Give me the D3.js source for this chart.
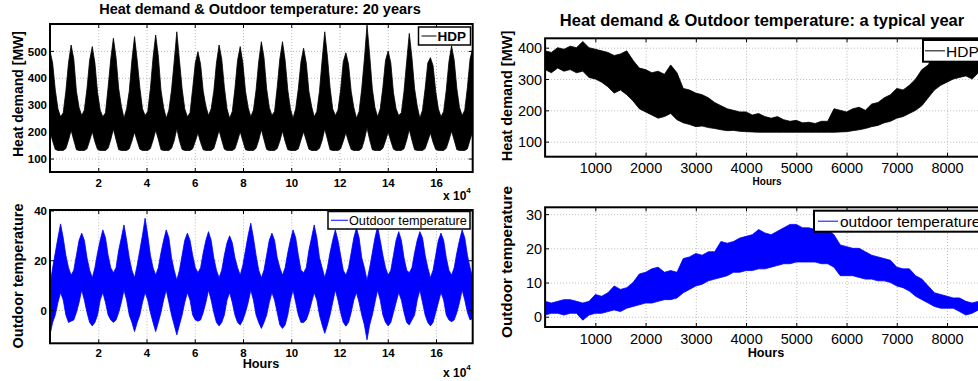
<!DOCTYPE html>
<html>
<head>
<meta charset="utf-8">
<script src="https://cdn.jsdelivr.net/npm/d3@7"></script>
<style>
  body { margin: 0; background: #fff; }
  svg { display: block; font-family: "Liberation Sans", Arial, Helvetica, sans-serif; }
  .grid line { stroke: #a8a8a8; stroke-width: 0.8; stroke-dasharray: 1,2; }
  .grid path { display: none; }
  .ticks path { display: none; }
  .ticks line { stroke: #000; stroke-width: 1; }
</style>
</head>
<body>
<svg id="chart" width="978" height="381"></svg>
<script>
// ---- 20 years: envelope of the hourly series, one sample every 1/8 year (1095 h)
const step20 = 1095;
const hdp20Upper = [
  500, 455, 355, 285, 255, 270, 350, 455,
  522, 470, 350, 290, 260, 280, 360, 465,
  516, 455, 345, 280, 255, 270, 365, 470,
  547, 475, 360, 295, 250, 285, 350, 465,
  553, 465, 365, 285, 260, 275, 360, 475,
  559, 480, 355, 290, 250, 280, 355, 460,
  571, 465, 360, 285, 255, 270, 360, 455,
  497, 450, 350, 295, 260, 285, 350, 455,
  522, 470, 365, 285, 250, 275, 360, 465,
  516, 455, 350, 290, 255, 280, 355, 460,
  534, 475, 360, 290, 260, 275, 365, 470,
  534, 465, 355, 285, 250, 285, 360, 460,
  510, 455, 350, 295, 255, 275, 350, 465,
  571, 480, 365, 285, 260, 280, 355, 460,
  493, 450, 350, 290, 250, 275, 360, 470,
  596, 485, 360, 290, 255, 285, 365, 465,
  500, 455, 345, 285, 260, 270, 350, 460,
  565, 475, 360, 295, 250, 280, 360, 455,
  475, 445, 350, 285, 255, 275, 355, 460,
  519, 465, 360, 290, 260, 280, 365, 470,
  510
];
const hdp20Lower = [
  200, 165, 134, 130, 130, 130, 137, 168,
  205, 168, 133, 130, 130, 130, 136, 166,
  200, 162, 134, 130, 130, 130, 138, 170,
  210, 170, 133, 130, 130, 130, 136, 165,
  198, 165, 135, 130, 130, 130, 137, 168,
  205, 172, 133, 130, 130, 130, 138, 166,
  212, 166, 134, 130, 130, 130, 136, 164,
  195, 160, 133, 130, 130, 130, 137, 170,
  205, 168, 135, 130, 130, 130, 136, 166,
  200, 165, 133, 130, 130, 130, 138, 168,
  208, 170, 134, 130, 130, 130, 137, 165,
  202, 164, 133, 130, 130, 130, 136, 169,
  200, 167, 135, 130, 130, 130, 138, 167,
  210, 172, 133, 130, 130, 130, 136, 164,
  196, 162, 134, 130, 130, 130, 137, 170,
  214, 170, 133, 130, 130, 130, 138, 166,
  198, 165, 135, 130, 130, 130, 136, 168,
  208, 168, 133, 130, 130, 130, 137, 165,
  195, 160, 134, 130, 130, 130, 138, 168,
  202, 168, 133, 130, 130, 130, 136, 170,
  200
];
const temp20Upper = [
  10, 17, 23, 29, 34.6, 29, 22, 17,
  14, 16, 22, 28, 30.9, 28, 21, 16,
  13, 17, 23, 28, 32.2, 29, 22, 17,
  15, 17, 24, 29, 34.2, 28, 21, 16,
  13, 18, 24, 30, 36.9, 30, 22, 17,
  14, 17, 23, 28, 32.2, 29, 21, 16,
  12, 16, 22, 28, 30.9, 28, 22, 17,
  15, 17, 23, 28, 31.5, 28, 21, 16,
  13, 16, 22, 27, 29.8, 27, 21, 17,
  14, 18, 24, 30, 34.9, 29, 22, 16,
  13, 16, 22, 28, 30.9, 28, 21, 17,
  14, 17, 23, 28, 32.2, 29, 22, 16,
  15, 17, 24, 29, 34.2, 29, 21, 17,
  13, 17, 23, 28, 32.2, 28, 22, 16,
  14, 17, 23, 29, 33, 29, 21, 17,
  12, 17, 23, 29, 33.5, 28, 22, 17,
  14, 16, 22, 28, 31.5, 28, 21, 16,
  15, 17, 23, 28, 31.5, 29, 22, 17,
  13, 16, 22, 28, 30.9, 28, 21, 16,
  14, 17, 23, 28, 32.2, 29, 22, 17,
  13
];
const temp20Lower = [
  -10, -5, -2, 3, 7, 4, -2, -5,
  -4.5, -4, -1, 3, 8, 4, -1, -5,
  -6.4, -5, -2, 4, 7, 3, -2, -4,
  -5, -4, -1, 3, 8, 4, -2, -5,
  -8.7, -5, -2, 3, 7, 4, -1, -5,
  -8.7, -5, -1, 4, 8, 3, -2, -6,
  -10, -6, -2, 3, 7, 4, -2, -4,
  -4.5, -4, -1, 3, 8, 4, -1, -5,
  -6.4, -5, -2, 4, 7, 3, -2, -5,
  -6, -4, -1, 3, 8, 4, -2, -5,
  -7.4, -5, -2, 3, 7, 4, -1, -6,
  -7.4, -6, -2, 4, 8, 3, -2, -5,
  -5, -4, -1, 3, 7, 4, -2, -6,
  -9.4, -6, -2, 3, 8, 4, -1, -5,
  -6.5, -5, -1, 4, 7, 3, -2, -6,
  -12, -6, -2, 3, 8, 4, -2, -5,
  -6.4, -5, -1, 3, 7, 4, -1, -5,
  -6, -4, -2, 4, 8, 3, -2, -5,
  -6.4, -5, -1, 3, 7, 4, -2, -4,
  -4.7, -4, -1, 3, 8, 4, -1, -4,
  -3.4
];

// ---- a typical year: envelope, one sample every 125 h
const stepYear = 125;
const hdpYearUpper = [
  390, 385, 400, 395, 405, 400, 420, 400,
  395, 390, 385, 375, 380, 390, 360, 335,
  330, 320, 325, 315, 345, 320, 270, 265,
  255, 250, 240, 225, 215, 205, 200, 195,
  195, 185, 190, 180, 175, 180, 170, 165,
  168, 160, 162, 158, 165, 165, 205, 200,
  195, 205, 210, 200, 220, 225, 240, 250,
  270, 265, 280, 300, 330, 345, 380, 395,
  400, 405, 415, 410, 405, 395, 400
];
const hdpYearLower = [
  330, 320, 335, 325, 330, 320, 325, 305,
  300, 290, 275, 255, 265, 250, 230, 205,
  195, 185, 175, 180, 190, 170, 160, 155,
  148, 150, 145, 142, 138, 135, 136, 133,
  132, 131, 130, 130, 130, 130, 130, 130,
  130, 130, 130, 130, 130, 130, 130, 131,
  132, 135, 138, 142, 148, 152, 160, 165,
  175, 180, 190, 200, 215, 240, 265, 280,
  290, 300, 305, 310, 300, 320, 320
];
const tempYearUpper = [
  4.5, 4, 4.5, 5, 5, 4.5, 4, 4.5,
  6.5, 6, 7, 9, 8, 8.5, 10, 12.5,
  13, 14, 14.5, 13, 13.5, 13, 17, 17.5,
  18.5, 18, 19, 19, 22, 21.5, 22, 23,
  23.5, 24, 25.5, 24.5, 24, 25, 26, 27,
  27, 26, 26, 25.5, 25, 25.5, 24, 21,
  20.5, 20, 20, 19, 18, 17.5, 17, 16.5,
  14.5, 14, 14, 12, 11, 9, 7, 6.5,
  6, 5.5, 5.5, 4.5, 4, 4.5, 5
];
const tempYearLower = [
  0.5, 1, 1, 0.5, 1, 1, -1, 0.5,
  1, 1, 1.5, 2, 1.5, 2.5, 3, 3.5,
  4, 4, 4.5, 5, 5, 5.5, 7, 8,
  9, 9.5, 10.5, 11, 11.5, 12, 13, 13,
  13.5, 13.5, 14, 14, 14.5, 15, 15.5, 15.5,
  16, 16, 16, 16, 15.5, 15.5, 14.5, 12,
  12, 12, 11.5, 11, 11, 10.5, 10.5, 10,
  9, 8.5, 7.5, 6, 5, 4, 3, 2.5,
  2.5, 2.5, 1.5, 0.5, 1, 2, 2.5
];

// ticks
const xTicks20 = [20000, 40000, 60000, 80000, 100000, 120000, 140000, 160000];
const xTicksYear = [1000, 2000, 3000, 4000, 5000, 6000, 7000, 8000];
const yTicksHdp20 = [100, 200, 300, 400, 500];
const yTicksTemp20 = [0, 20, 40];
const yTicksHdpYear = [100, 200, 300, 400];
const yTicksTempYear = [0, 10, 20, 30];

const svg = d3.select("#chart");
const font = "'Liberation Sans', Arial, Helvetica, sans-serif";

function panel(o) {
  const x = d3.scaleLinear().domain(o.xDomain).range([o.left, o.right]);
  const y = d3.scaleLinear().domain(o.yDomain).range([o.bottom, o.top]);
  const w = o.right - o.left, h = o.bottom - o.top;

  svg.append("clipPath").attr("id", "clip-" + o.id)
    .append("rect").attr("x", o.left).attr("y", o.top).attr("width", w).attr("height", h);

  // dotted grid
  svg.append("g").attr("class", "grid").attr("transform", `translate(0,${o.bottom})`)
    .call(d3.axisBottom(x).tickValues(o.xTicks).tickSize(-h).tickFormat(""));
  svg.append("g").attr("class", "grid").attr("transform", `translate(${o.left},0)`)
    .call(d3.axisLeft(y).tickValues(o.yTicks).tickSize(-w).tickFormat(""));

  // the series as a band between its lower and upper envelope
  const rows = o.upper.map((u, i) => ({ t: i * o.step, hi: u, lo: o.lower[i] }));
  const area = d3.area().x(d => x(d.t)).y0(d => y(d.lo)).y1(d => y(d.hi));
  svg.append("path").datum(rows)
    .attr("clip-path", `url(#clip-${o.id})`)
    .attr("d", area)
    .attr("fill", o.color).attr("stroke", o.color).attr("stroke-width", 0.8)
    .attr("stroke-linejoin", "miter");

  // inward ticks on all four sides
  const bx = svg.append("g").attr("class", "ticks").attr("transform", `translate(0,${o.bottom})`)
    .call(d3.axisBottom(x).tickValues(o.xTicks).tickSize(-4).tickFormat(o.xFormat));
  bx.selectAll("text").attr("y", o.xLabelY).attr("dy", null)
    .attr("font-size", o.tickSize).attr("font-weight", o.tickWeight)
    .attr("font-family", font).attr("fill", "#000");
  const ly = svg.append("g").attr("class", "ticks").attr("transform", `translate(${o.left},0)`)
    .call(d3.axisLeft(y).tickValues(o.yTicks).tickSize(-4));
  ly.selectAll("text").attr("x", -3).attr("dy", "0.36em")
    .attr("font-size", o.tickSize).attr("font-weight", o.tickWeight)
    .attr("font-family", font).attr("fill", "#000");
  svg.append("g").attr("class", "ticks").attr("transform", `translate(0,${o.top})`)
    .call(d3.axisTop(x).tickValues(o.xTicks).tickSize(-4).tickFormat(""));
  svg.append("g").attr("class", "ticks").attr("transform", `translate(${o.right},0)`)
    .call(d3.axisRight(y).tickValues(o.yTicks).tickSize(-4).tickFormat(""));

  // box
  svg.append("rect").attr("x", o.left).attr("y", o.top).attr("width", w).attr("height", h)
    .attr("fill", "none").attr("stroke", "#000").attr("stroke-width", 2);

  // y label
  svg.append("text").attr("transform", `translate(${o.yLabelX},${o.yLabelY}) rotate(-90)`)
    .attr("text-anchor", "middle").attr("font-size", o.yLabelSize).attr("font-weight", "bold")
    .text(o.yLabel);

  // legend
  const lg = o.legend;
  svg.append("rect").attr("x", lg.x).attr("y", lg.y).attr("width", lg.w).attr("height", lg.h)
    .attr("fill", "#fff").attr("stroke", "#000").attr("stroke-width", lg.border);
  svg.append("line").attr("x1", lg.x + lg.lineFrom).attr("x2", lg.x + lg.lineTo)
    .attr("y1", lg.y + lg.h / 2).attr("y2", lg.y + lg.h / 2)
    .attr("stroke", o.color).attr("stroke-width", 1);
  svg.append("text").attr("x", lg.x + lg.textX).attr("y", lg.y + lg.textY)
    .attr("font-size", lg.size).attr("font-weight", lg.weight).text(lg.label);

  return { x, y };
}

const fmt20 = d => d / 10000;

panel({
  id: "hdp20", left: 50, right: 472.7, top: 24, bottom: 172,
  xDomain: [0, 175200], yDomain: [50, 600],
  xTicks: xTicks20, yTicks: yTicksHdp20, xFormat: fmt20,
  step: step20, upper: hdp20Upper, lower: hdp20Lower, color: "#000",
  tickSize: 11.5, tickWeight: "bold", xLabelY: 15,
  yLabel: "Heat demand [MW]", yLabelX: 23, yLabelY: 94, yLabelSize: 14,
  legend: { x: 418.5, y: 27, w: 52, h: 18, border: 1.5, lineFrom: 3, lineTo: 18,
            textX: 19, textY: 14, size: 13.5, weight: "bold", label: "HDP" }
});

panel({
  id: "temp20", left: 50, right: 472.7, top: 210, bottom: 343.3,
  xDomain: [0, 175200], yDomain: [-13.4, 40.2],
  xTicks: xTicks20, yTicks: yTicksTemp20, xFormat: fmt20,
  step: step20, upper: temp20Upper, lower: temp20Lower, color: "#0000ff",
  tickSize: 11.5, tickWeight: "bold", xLabelY: 14,
  yLabel: "Outdoor temperature", yLabelX: 23, yLabelY: 276, yLabelSize: 14.5,
  legend: { x: 328, y: 211.5, w: 142, h: 17.5, border: 1.5, lineFrom: 3, lineTo: 20,
            textX: 21, textY: 13, size: 12.7, weight: "normal", label: "Outdoor temperature" }
});

panel({
  id: "hdpYear", left: 545.1, right: 985.2, top: 38.3, bottom: 156.7,
  xDomain: [0, 8760], yDomain: [52, 430],
  xTicks: xTicksYear, yTicks: yTicksHdpYear, xFormat: d => d,
  step: stepYear, upper: hdpYearUpper, lower: hdpYearLower, color: "#000",
  tickSize: 14.5, tickWeight: "normal", xLabelY: 16.5,
  yLabel: "Heat demand [MW]", yLabelX: 512, yLabelY: 96, yLabelSize: 14.5,
  legend: { x: 923, y: 40, w: 80, h: 21.7, border: 2, lineFrom: 2, lineTo: 22,
            textX: 23, textY: 16.5, size: 15.5, weight: "normal", label: "HDP" }
});

panel({
  id: "tempYear", left: 545.1, right: 985.2, top: 207.3, bottom: 327,
  xDomain: [0, 8760], yDomain: [-3, 32],
  xTicks: xTicksYear, yTicks: yTicksTempYear, xFormat: d => d,
  step: stepYear, upper: tempYearUpper, lower: tempYearLower, color: "#0000ff",
  tickSize: 14.5, tickWeight: "normal", xLabelY: 17,
  yLabel: "Outdoor temperature", yLabelX: 512, yLabelY: 262, yLabelSize: 15.2,
  legend: { x: 814, y: 210.7, w: 180, h: 21, border: 2, lineFrom: 4, lineTo: 24,
            textX: 26, textY: 16, size: 15.5, weight: "normal", label: "outdoor temperature" }
});

// titles, x labels and exponents
svg.append("text").attr("x", 260).attr("y", 13.5).attr("text-anchor", "middle")
  .attr("font-size", 14.5).attr("font-weight", "bold")
  .text("Heat demand & Outdoor temperature: 20 years");
svg.append("text").attr("x", 762).attr("y", 26).attr("text-anchor", "middle")
  .attr("font-size", 16.5).attr("font-weight", "bold")
  .text("Heat demand & Outdoor temperature: a typical year");

svg.append("text").attr("x", 261).attr("y", 368).attr("text-anchor", "middle")
  .attr("font-size", 12.7).attr("font-weight", "bold").text("Hours");
svg.append("text").attr("x", 767).attr("y", 184.5).attr("text-anchor", "middle")
  .attr("font-size", 10).attr("font-weight", "bold").text("Hours");
svg.append("text").attr("x", 766).attr("y", 356.5).attr("text-anchor", "middle")
  .attr("font-size", 12.7).attr("font-weight", "bold").text("Hours");

[199.5, 377].forEach(by => {
  const t = svg.append("text").attr("x", 443).attr("y", by)
    .attr("font-size", 12).attr("font-weight", "bold");
  t.append("tspan").text("x 10");
  t.append("tspan").attr("dy", -7).attr("font-size", 8).text("4");
});
</script>
</body>
</html>
